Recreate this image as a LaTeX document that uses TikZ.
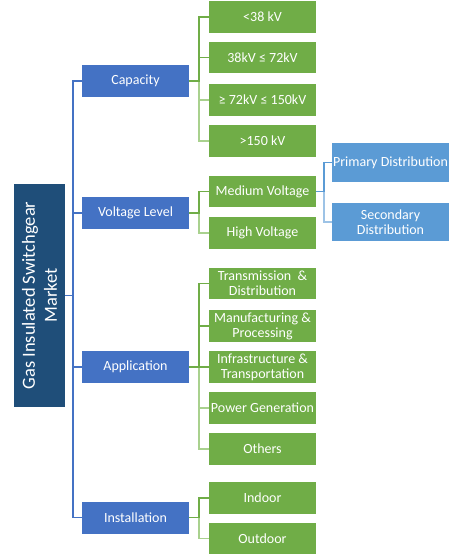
\documentclass[tikz,border=0pt]{standalone}
\usepackage{fontspec}
\setmainfont{Carlito}
\definecolor{rootblue}{HTML}{1F4E79}
\definecolor{lone}{HTML}{4472C4}
\definecolor{ltwo}{HTML}{70AD47}
\definecolor{lthree}{HTML}{5B9BD5}
\definecolor{lgreen}{HTML}{A9D18E}
\definecolor{lblue}{HTML}{9DC3E6}
\begin{document}
\begin{tikzpicture}[x=1pt,y=-1pt,
  base/.style={inner sep=0pt,outer sep=0pt,align=center,text=white,
    font=\fontsize{14}{15}\selectfont},
  rootbox/.style={base,fill=rootblue,minimum width=51pt,minimum height=223pt},
  lonebox/.style={base,fill=lone,minimum width=107pt,minimum height=32pt},
  ltwobox/.style={base,fill=ltwo,minimum width=107pt,minimum height=31.5pt},
  lthreebox/.style={base,fill=lthree,minimum width=117pt},
  trunk/.style={draw=lone,line width=1.1pt},
  gup/.style={draw=ltwo,line width=1.1pt},
  gdown/.style={draw=lgreen,line width=1.1pt},
  bup/.style={draw=lthree,line width=1.1pt},
  bdown/.style={draw=lblue,line width=1.1pt}]
\useasboundingbox (0,0) rectangle (457,560);
% root
\node[rootbox] (root) at (39.5,295.5) {};
\node[base,rotate=90,font=\fontsize{18.5}{22}\selectfont] (roottext) at (root.center) {Gas Insulated Switchgear\\Market};
% level 1
\node[lonebox] (cap) at (135.5,81) {Capacity};
\node[lonebox] (volt) at (135.5,213) {Voltage Level};
\node[lonebox] (app) at (135.5,367) {Application};
\node[lonebox] (inst) at (135.5,517.5) {Installation};
% capacity children
\node[ltwobox] (c1) at (262.5,17) {<38 kV};
\node[ltwobox] (c2) at (262.5,57.5) {38kV ≤ 72kV};
\node[ltwobox] (c3) at (262.5,100) {≥ 72kV ≤ 150kV};
\node[ltwobox] (c4) at (262.5,141) {>150 kV};
% voltage children
\node[ltwobox] (mv) at (262.5,191.5) {Medium Voltage};
\node[ltwobox] (hv) at (262.5,233) {High Voltage};
\node[lthreebox,minimum height=39pt] (prim) at (390.5,162.5) {Primary Distribution};
\node[lthreebox,minimum height=38pt] (sec) at (390.5,222) {Secondary\\Distribution};
% application children
\node[ltwobox] (a1) at (262.5,283.5) {Transmission\ \ \&\\Distribution};
\node[ltwobox] (a2) at (262.5,326) {Manufacturing \&\\Processing};
\node[ltwobox] (a3) at (262.5,367) {Infrastructure \&\\Transportation};
\node[ltwobox] (a4) at (262.5,408) {Power Generation};
\node[ltwobox] (a5) at (262.5,449) {Others};
% installation children
\node[ltwobox] (i1) at (262.5,498) {Indoor};
\node[ltwobox] (i2) at (262.5,538.5) {Outdoor};
% trunk connectors
\draw[trunk] (root.east) -- ++(8,0) |- (cap.west);
\draw[trunk] (root.east) -- ++(8,0) |- (volt.west);
\draw[trunk] (root.east) -- ++(8,0) |- (app.west);
\draw[trunk] (root.east) -- ++(8,0) |- (inst.west);
% capacity connectors
\draw[gdown] (cap.east) -- ++(10,0) |- (c4.west);
\draw[gdown] (cap.east) -- ++(10,0) |- (c3.west);
\draw[gup] (cap.east) -- ++(10,0) |- (c2.west);
\draw[gup] (cap.east) -- ++(10,0) |- (c1.west);
% voltage connectors
\draw[gdown] (volt.east) -- ++(10,0) |- (hv.west);
\draw[gup] (volt.east) -- ++(10,0) |- (mv.west);
\draw[bdown] (mv.east) -- ++(8,0) |- (sec.west);
\draw[bup] (mv.east) -- ++(8,0) |- (prim.west);
% application connectors
\draw[gdown] (app.east) -- ++(10,0) |- (a5.west);
\draw[gdown] (app.east) -- ++(10,0) |- (a4.west);
\draw[gup] (app.east) -- ++(10,0) |- (a3.west);
\draw[gup] (app.east) -- ++(10,0) |- (a2.west);
\draw[gup] (app.east) -- ++(10,0) |- (a1.west);
% installation connectors
\draw[gdown] (inst.east) -- ++(10,0) |- (i2.west);
\draw[gup] (inst.east) -- ++(10,0) |- (i1.west);
\end{tikzpicture}
\end{document}
